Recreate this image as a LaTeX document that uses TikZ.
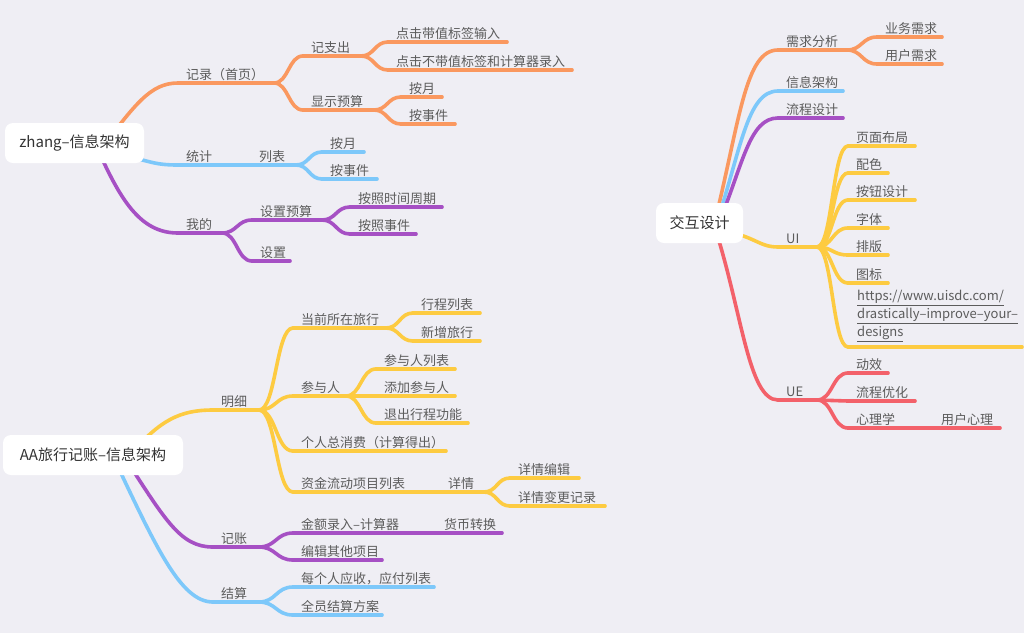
\documentclass[tikz,border=0pt]{standalone}
\usepackage{fontspec}
\setmainfont{Noto Sans CJK SC}
\usetikzlibrary{calc}
\definecolor{bgc}{RGB}{239,238,244}
\definecolor{txt}{RGB}{92,92,92}
\definecolor{roottxt}{RGB}{51,51,51}
\definecolor{O}{RGB}{250,152,95}
\definecolor{B}{RGB}{125,200,250}
\definecolor{P}{RGB}{166,80,196}
\definecolor{Y}{RGB}{253,203,65}
\definecolor{R}{RGB}{243,97,106}
\pgfdeclarelayer{back}
\pgfdeclarelayer{mid}
\pgfsetlayers{back,mid,main}
\tikzset{
  br/.style={line width=3.6pt,line cap=round},
  lbl/.style={text=txt,font=\fontsize{13}{15}\selectfont,inner sep=0pt,anchor=base west},
  rootbox/.style={fill=white,rounded corners=8pt,minimum height=40pt,text=roottxt,font=\fontsize{15}{18}\selectfont,inner sep=0pt},
  sc/.style={to path={let \p1=(\tikztostart),\p2=(\tikztotarget) in .. controls ({0.5*\x1+0.5*\x2},\y1) and ({0.5*\x1+0.5*\x2},\y2) .. (\tikztotarget)}},
}
\newcommand\mmleaf[6]{%
  \coordinate (#1s) at (#3,#5);
  \coordinate (#1e) at (#4,#5);
  \draw[br,#2] (#1s) -- (#1e);
  \node[lbl] (#1) at ([xshift=8pt,yshift=4pt]#1s) {#6};}
\begin{document}
\begin{tikzpicture}[x=1pt,y=-1pt]
\begin{pgfonlayer}{back}
\fill[bgc] (0,0) rectangle (1024,633);
\end{pgfonlayer}
\useasboundingbox (0,0) rectangle (1024,633);

% ---------- tree 1: zhang ----------
\node[rootbox,minimum width=139pt] (r1) at (74.5,143) {zhang–信息架构};
\mmleaf{a1}{O}{178}{274}{83}{记录（首页）}
\mmleaf{a11}{O}{303}{361}{56}{记支出}
\mmleaf{a111}{O}{388}{507}{42}{点击带值标签输入}
\mmleaf{a112}{O}{388}{572}{70}{点击不带值标签和计算器录入}
\mmleaf{a12}{O}{303}{374}{110}{显示预算}
\mmleaf{a121}{O}{401}{442}{97}{按月}
\mmleaf{a122}{O}{401}{455}{124}{按事件}
\mmleaf{a2}{B}{178}{251}{165}{统计}
\mmleaf{a21}{B}{251}{296}{165}{列表}
\mmleaf{a211}{B}{322}{364}{152}{按月}
\mmleaf{a212}{B}{322}{377}{179}{按事件}
\mmleaf{a3}{P}{178}{222}{233}{我的}
\mmleaf{a31}{P}{252}{322}{220}{设置预算}
\mmleaf{a311}{P}{350}{442}{207}{按照时间周期}
\mmleaf{a312}{P}{350}{416}{234}{按照事件}
\mmleaf{a32}{P}{252}{290}{261}{设置}
\begin{pgfonlayer}{mid}
\draw[br,O] ([shift={(25.5,7)}]r1.center) .. controls (135,105) and (150,83) .. (a1s);
\draw[br,B] ([shift={(25.5,7)}]r1.center) .. controls (150,160) and (150,165) .. (a2s);
\draw[br,P] ([shift={(20.5,0)}]r1.center) .. controls (120,200) and (140,233) .. (a3s);
\end{pgfonlayer}
\draw[br,O] (a1e) to[sc] (a11s);
\draw[br,O] (a1e) to[sc] (a12s);
\draw[br,O] (a11e) to[sc] (a111s);
\draw[br,O] (a11e) to[sc] (a112s);
\draw[br,O] (a12e) to[sc] (a121s);
\draw[br,O] (a12e) to[sc] (a122s);
\draw[br,B] (a21e) to[sc] (a211s);
\draw[br,B] (a21e) to[sc] (a212s);
\draw[br,P] (a3e) to[sc] (a31s);
\draw[br,P] (a3e) to[sc] (a32s);
\draw[br,P] (a31e) to[sc] (a311s);
\draw[br,P] (a31e) to[sc] (a312s);

% ---------- tree 2: AA ----------
\node[rootbox,minimum width=180pt] (r2) at (93,455) {AA旅行记账–信息架构};
\mmleaf{b1}{Y}{213}{259}{410}{明细}
\mmleaf{b11}{Y}{293}{386}{328}{当前所在旅行}
\mmleaf{b111}{Y}{413}{480}{313}{行程列表}
\mmleaf{b112}{Y}{413}{480}{341}{新增旅行}
\mmleaf{b12}{Y}{293}{346}{396}{参与人}
\mmleaf{b121}{Y}{376}{455}{369}{参与人列表}
\mmleaf{b122}{Y}{376}{455}{396}{添加参与人}
\mmleaf{b123}{Y}{376}{468}{423}{退出行程功能}
\mmleaf{b13}{Y}{293}{446}{451}{个人总消费（计算得出）}
\mmleaf{b14}{Y}{293}{440}{492}{资金流动项目列表}
\mmleaf{b141}{Y}{440}{484}{492}{详情}
\mmleaf{b1411}{Y}{510}{579}{478}{详情编辑}
\mmleaf{b1412}{Y}{510}{605}{506}{详情变更记录}
\mmleaf{b2}{P}{213}{259}{547}{记账}
\mmleaf{b21}{P}{293}{436}{533}{金额录入–计算器}
\mmleaf{b211}{P}{436}{502}{533}{货币转换}
\mmleaf{b22}{P}{293}{382}{560}{编辑其他项目}
\mmleaf{b3}{B}{213}{259}{602}{结算}
\mmleaf{b31}{B}{293}{434}{587}{每个人应收，应付列表}
\mmleaf{b32}{B}{293}{382}{615}{全员结算方案}
\begin{pgfonlayer}{mid}
\draw[br,Y] ([shift={(37,0)}]r2.center) .. controls (160,420) and (180,410) .. (b1s);
\draw[br,B] ([shift={(17,-5)}]r2.center) .. controls (155,545) and (180,602) .. (b3s);
\draw[br,P] ([shift={(27,-5)}]r2.center) .. controls (165,520) and (180,547) .. (b2s);
\end{pgfonlayer}
\foreach \c in {b11,b12,b13,b14} {\draw[br,Y] (b1e) to[sc] (\c s);}
\draw[br,Y] (b11e) to[sc] (b111s);
\draw[br,Y] (b11e) to[sc] (b112s);
\foreach \c in {b121,b122,b123} {\draw[br,Y] (b12e) to[sc] (\c s);}
\draw[br,Y] (b141e) to[sc] (b1411s);
\draw[br,Y] (b141e) to[sc] (b1412s);
\draw[br,P] (b2e) to[sc] (b21s);
\draw[br,P] (b2e) to[sc] (b22s);
\draw[br,B] (b3e) to[sc] (b31s);
\draw[br,B] (b3e) to[sc] (b32s);

% ---------- tree 3: 交互设计 ----------
\node[rootbox,minimum width=87pt] (r3) at (699.5,223) {交互设计};
\mmleaf{c1}{O}{778}{847}{50}{需求分析}
\mmleaf{c11}{O}{877}{942}{37}{业务需求}
\mmleaf{c12}{O}{877}{942}{64}{用户需求}
\mmleaf{c2}{B}{778}{843}{91}{信息架构}
\mmleaf{c3}{P}{778}{843}{118}{流程设计}
\mmleaf{c4}{Y}{778}{817}{247}{UI}
\mmleaf{c41}{Y}{848}{915}{146}{页面布局}
\mmleaf{c42}{Y}{848}{888}{173}{配色}
\mmleaf{c43}{Y}{848}{915}{200}{按钮设计}
\mmleaf{c44}{Y}{848}{888}{228}{字体}
\mmleaf{c45}{Y}{848}{888}{255}{排版}
\mmleaf{c46}{Y}{848}{888}{283}{图标}
\coordinate (c47s) at (848,347);
\coordinate (c47e) at (1022,347);
\draw[br,Y] (c47s) -- (c47e);
\node[lbl,anchor=south west,align=left,font=\fontsize{13}{18}\selectfont] (c47) at ([xshift=9pt,yshift=5pt]c47s)
  {\underline{https://www.uisdc.com/}\\\underline{drastically–improve–your–}\\\underline{designs}};
\mmleaf{c5}{R}{778}{817}{400}{UE}
\mmleaf{c51}{R}{848}{888}{373}{动效}
\mmleaf{c52}{R}{848}{915}{401}{流程优化}
\mmleaf{c53}{R}{848}{933}{428}{心理学}
\mmleaf{c531}{R}{933}{1000}{428}{用户心理}
\begin{pgfonlayer}{mid}
\draw[br,O] ([shift={(14.5,2)}]r3.center) .. controls (740,120) and (745,50) .. (c1s);
\draw[br,B] ([shift={(16.5,2)}]r3.center) .. controls (741,150) and (747,91) .. (c2s);
\draw[br,P] ([shift={(18.5,2)}]r3.center) .. controls (743,165) and (749,118) .. (c3s);
\draw[br,Y] ([shift={(0.5,5)}]r3.center) .. controls (755,232) and (755,247) .. (c4s);
\draw[br,R] ([shift={(14.5,2)}]r3.center) .. controls (742,310) and (748,400) .. (c5s);
\end{pgfonlayer}
\draw[br,O] (c1e) to[sc] (c11s);
\draw[br,O] (c1e) to[sc] (c12s);
\foreach \c in {c41,c42,c43,c44,c45,c46,c47} {\draw[br,Y] (c4e) to[sc] (\c s);}
\foreach \c in {c51,c52,c53} {\draw[br,R] (c5e) to[sc] (\c s);}
\end{tikzpicture}
\end{document}
